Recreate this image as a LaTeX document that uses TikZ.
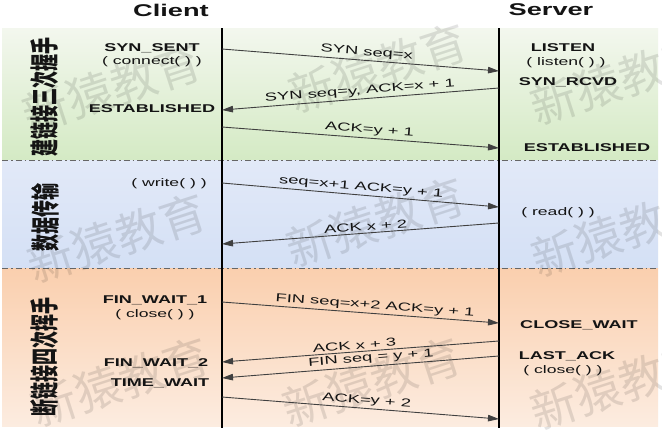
\documentclass[tikz,border=0pt]{standalone}
\usepackage{fontspec}
\setmainfont{Liberation Sans}
\newfontfamily\cjk{Noto Sans CJK SC}
\usepackage{graphicx}
\usetikzlibrary{arrows.meta}
\definecolor{gtop}{RGB}{243,247,238}
\definecolor{gbot}{RGB}{212,234,196}
\definecolor{btop}{RGB}{226,233,248}
\definecolor{bbot}{RGB}{212,224,245}
\definecolor{otop}{RGB}{250,207,174}
\definecolor{obot}{RGB}{252,236,224}
\definecolor{ink}{RGB}{20,20,20}
\newcommand{\xs}[1]{\scalebox{1.6}[1]{#1}}
\newcommand{\xc}[1]{\scalebox{1.7}[1]{\rotatebox{90}{#1}}}
\begin{document}
\begin{tikzpicture}[x=1pt,y=-1pt,
  title/.style={font=\fontsize{17}{20}\selectfont\bfseries, inner sep=0, text=ink},
  st/.style={font=\fontsize{11.3}{13}\selectfont\bfseries, inner sep=0, text=ink},
  fn/.style={font=\fontsize{11}{13}\selectfont, inner sep=0, text=ink},
  lbl/.style={font=\fontsize{11.5}{13}\selectfont, sloped, above=2pt, inner sep=0, text=ink},
  msg/.style={draw=black!75, line width=0.9pt, -{Triangle[length=11pt,width=6.5pt]}},
  life/.style={draw=black, line width=1.1pt},
  phase/.style={font=\cjk\bfseries\fontsize{17}{20}\selectfont, inner sep=0, text=ink},
  divline/.style={draw=black!60, line width=0.8pt, dash pattern=on 6pt off 3pt on 1.5pt off 3pt},
  wm/.style={font=\cjk\fontsize{46}{50}\selectfont, text=black, opacity=0.11, inner sep=0, rotate=18}
]
\useasboundingbox (0,0) rectangle (662,437);
\fill[white] (0,0) rectangle (662,437);
% bands
\shade[top color=gtop, bottom color=gbot] (2,28) rectangle (658,160);
\shade[top color=btop, bottom color=bbot] (2,160) rectangle (658,268);
\shade[top color=otop, bottom color=obot] (2,268) rectangle (658,426);
\draw[divline] (2,160) -- (658,160);
\draw[divline] (2,268) -- (658,268);
% watermarks
\foreach \p [count=\i] in {(112,88),(378,68),(620,80),(117,238),(376,222),(621,232),(120,382),(372,382),(620,385)}
  \node[wm] (wm\i) at \p {新猿教育};
% titles
\node[title] (client) at (171,10) {\xs{Client}};
\node[title] (server) at (551,10) {\xs{Server}};
% lifelines
\coordinate (ctop) at (222,28);
\coordinate (cbot) at (222,428);
\coordinate (stop) at (499,28);
\coordinate (sbot) at (499,428);
\draw[life] (ctop) -- (cbot);
\draw[life] (stop) -- (sbot);
% phase labels
\node[phase] (p1) at (45,97) {\xc{建链接三次握手}};
\node[phase] (p2) at (45,217) {\xc{数据传输}};
\node[phase] (p3) at (45,357) {\xc{断链接四次挥手}};
% client states
\node[st] (synsent) at (152,48) {\xs{SYN\_SENT}};
\node[fn] (connect) at (152,62) {\xs{( connect( ) )}};
\node[st] (cest) at (152,109) {\xs{ESTABLISHED}};
\node[fn] (write) at (169,184) {\xs{( write( ) )}};
\node[st] (fw1) at (155,300) {\xs{FIN\_WAIT\_1}};
\node[fn] (cclose) at (155,315) {\xs{( close( ) )}};
\node[st] (fw2) at (156,363) {\xs{FIN\_WAIT\_2}};
\node[st] (tw) at (160,383) {\xs{TIME\_WAIT}};
% server states
\node[st] (listen) at (563,48) {\xs{LISTEN}};
\node[fn] (listenf) at (566,63) {\xs{( listen( ) )}};
\node[st] (synrcvd) at (568,82) {\xs{SYN\_RCVD}};
\node[st] (sest) at (587,148) {\xs{ESTABLISHED}};
\node[fn] (read) at (558,213) {\xs{( read( ) )}};
\node[st] (cw) at (579,325) {\xs{CLOSE\_WAIT}};
\node[st] (la) at (567,356) {\xs{LAST\_ACK}};
\node[fn] (sclose) at (563,371) {\xs{( close( ) )}};
% message end points
\coordinate (c1) at (222,49);  \coordinate (s1) at (499,71);
\coordinate (s2) at (499,88);  \coordinate (c2) at (222,110);
\coordinate (c3) at (222,127); \coordinate (s3) at (499,148);
\coordinate (c4) at (222,183); \coordinate (s4) at (499,207);
\coordinate (s5) at (499,223); \coordinate (c5) at (222,244);
\coordinate (c6) at (222,302); \coordinate (s6) at (499,323);
\coordinate (s7) at (499,341); \coordinate (c7) at (222,362);
\coordinate (s8) at (499,356); \coordinate (c8) at (222,378);
\coordinate (c9) at (222,397); \coordinate (s9) at (499,419);
% messages
\draw[msg] (c1) -- node[lbl, pos=0.52] {\xs{SYN seq=x}} (s1);
\draw[msg] (s2) -- node[lbl, pos=0.50] {\xs{SYN seq=y, ACK=x + 1}} (c2);
\draw[msg] (c3) -- node[lbl, pos=0.53] {\xs{ACK=y + 1}} (s3);
\draw[msg] (c4) -- node[lbl, pos=0.50] {\xs{seq=x+1 ACK=y + 1}} (s4);
\draw[msg] (s5) -- node[lbl, pos=0.48] {\xs{ACK x + 2}} (c5);
\draw[msg] (c6) -- node[lbl, pos=0.55] {\xs{FIN seq=x+2 ACK=y + 1}} (s6);
\draw[msg] (s7) -- node[lbl, pos=0.52] {\xs{ACK x + 3}} (c7);
\draw[msg] (s8) -- node[lbl, pos=0.46] {\xs{FIN seq = y + 1}} (c8);
\draw[msg] (c9) -- node[lbl, pos=0.52] {\xs{ACK=y + 2}} (s9);
\end{tikzpicture}
\end{document}
